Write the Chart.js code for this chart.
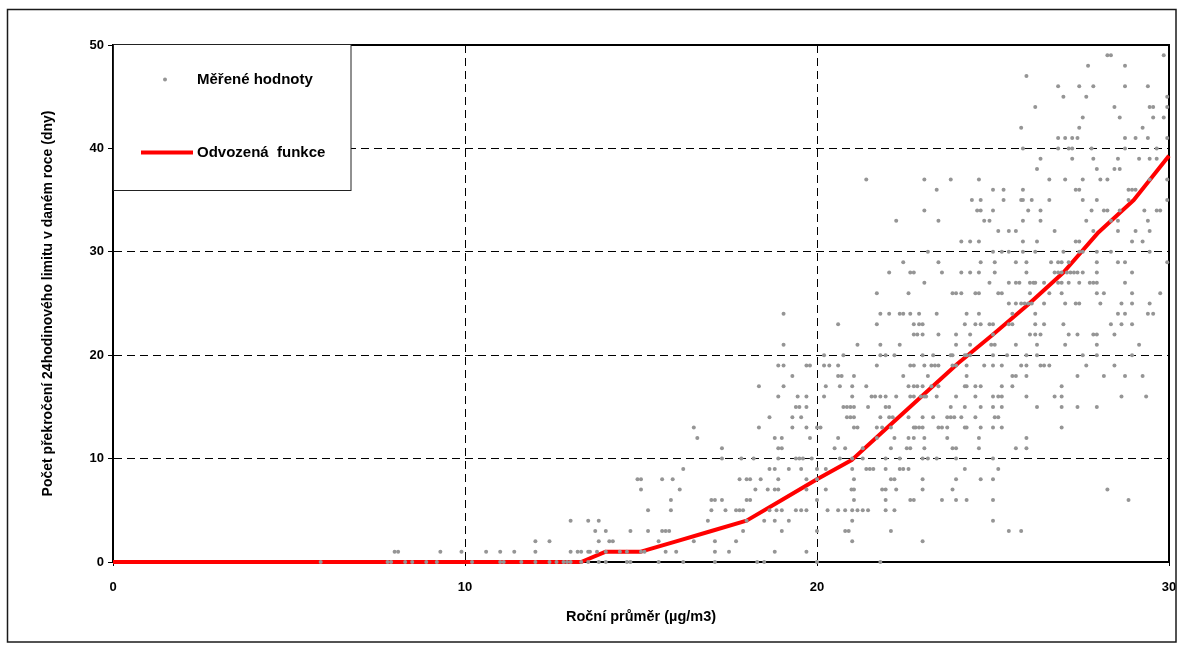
<!DOCTYPE html>
<html>
<head>
<meta charset="utf-8">
<script src="https://cdn.jsdelivr.net/npm/chart.js@4/dist/chart.umd.min.js"></script>
<style>
  html, body { margin: 0; padding: 0; background: #fff; }
  #wrap { width: 1183px; height: 648px; }
</style>
</head>
<body>
<div id="wrap"><canvas id="chart" width="1183" height="648"></canvas></div>
<script>
// Number of days above the 24-hour limit (one row per day count)
const measuredDays = [
  0, 1, 2, 3, 4, 5, 6, 7, 8, 9, 10, 11, 12, 13, 14, 15, 16, 17, 18, 19, 20, 21, 22, 23, 24,
  25, 26, 27, 28, 29, 30, 31, 32, 33, 34, 35, 36, 37, 38, 39, 40, 41, 42, 43, 44, 45, 46, 47, 48, 49
];

// Annual means (µg/m3) of the stations having that number of exceedance days
const measuredMeans = [
  [5.9, 7.8, 7.9, 8.3, 8.5, 8.9, 9.2, 10.2, 11.0, 11.1, 11.6, 12.0, 12.4, 12.6, 12.8, 12.9, 13.0, 13.3, 13.5, 13.8, 14.0, 14.6, 14.7, 15.5, 16.2, 17.1, 18.3, 18.5, 20.0, 21.8],
  [8.0, 8.1, 9.3, 9.9, 10.6, 11.0, 11.4, 12.0, 13.0, 13.2, 13.3, 13.5, 13.55, 13.75, 14.0, 14.4, 14.6, 15.0, 15.1, 15.7, 16.0, 17.1, 17.5, 18.8, 19.7],
  [12.0, 12.4, 13.8, 14.1, 14.2, 15.5, 16.5, 17.1, 17.7, 21.0, 23.0],
  [13.7, 14.0, 14.7, 15.2, 15.6, 15.7, 15.8, 17.9, 19.0, 20.0, 20.8, 20.9, 22.1, 25.45, 25.8],
  [13.0, 13.5, 13.8, 16.9, 18.0, 18.5, 18.8, 19.2, 21.0, 25.0],
  [15.2, 15.85, 17.0, 17.4, 17.7, 17.8, 17.9, 18.65, 18.85, 19.0, 19.4, 19.55, 19.7, 20.3, 20.6, 20.8, 21.0, 21.15, 21.3, 21.45, 21.95, 22.2],
  [15.85, 17.0, 17.1, 17.3, 18.0, 18.1, 20.0, 21.05, 21.95, 22.65, 22.75, 23.55, 23.95, 24.25, 25.0, 28.85],
  [15.0, 16.1, 18.25, 18.6, 18.8, 18.9, 19.7, 20.25, 20.98, 21.05, 21.85, 21.95, 22.25, 23.0, 23.85, 28.25],
  [14.9, 15.0, 15.6, 15.9, 17.8, 18.0, 18.1, 18.4, 18.9, 19.7, 20.0, 21.05, 22.1, 22.2, 23.0, 23.95, 24.65, 25.0],
  [16.2, 18.65, 18.8, 19.2, 19.55, 20.0, 20.25, 21.0, 21.4, 21.5, 21.6, 21.95, 22.35, 22.45, 22.6, 24.2, 25.15],
  [17.3, 17.85, 18.2, 18.9, 19.4, 19.5, 19.6, 19.85, 20.65, 21.0, 21.3, 21.95, 22.35, 23.0, 23.15, 23.4, 23.95, 25.0],
  [17.3, 18.9, 19.0, 20.5, 20.8, 21.3, 22.1, 22.55, 22.65, 23.05, 23.85, 23.95, 24.6, 25.65, 25.95],
  [16.6, 18.8, 19.0, 19.8, 20.6, 21.7, 22.2, 22.6, 22.75, 23.05, 23.7, 24.6, 25.95],
  [16.5, 18.35, 19.3, 19.7, 20.0, 20.1, 21.05, 21.15, 21.7, 21.85, 22.1, 22.75, 22.8, 22.9, 23.0, 23.45, 23.55, 23.7, 24.2, 24.25, 24.65, 25.0, 25.25, 26.95],
  [18.65, 19.3, 19.55, 20.85, 20.95, 21.05, 21.8, 22.05, 22.15, 22.6, 23.0, 23.3, 23.7, 23.8, 23.9, 24.1, 24.5, 25.05, 25.15],
  [19.4, 19.5, 19.7, 20.75, 20.85, 20.95, 21.05, 21.45, 21.95, 22.05, 23.8, 24.2, 24.65, 25.0, 25.25, 26.25, 26.95, 27.4, 27.95],
  [18.9, 19.45, 19.7, 20.2, 21.0, 21.55, 21.65, 21.8, 21.95, 22.25, 22.65, 22.75, 22.95, 23.05, 23.1, 23.4, 23.95, 24.5, 25.0, 25.15, 25.25, 25.95, 26.75, 26.95, 28.65, 29.35],
  [18.35, 19.05, 20.25, 20.65, 21.0, 21.4, 22.6, 22.75, 22.85, 23.0, 23.25, 23.45, 24.2, 24.25, 24.5, 24.65, 25.25, 25.55, 26.95],
  [19.3, 20.6, 20.7, 21.05, 22.45, 23.15, 24.25, 25.55, 25.65, 25.95, 27.4, 28.15, 28.75, 29.25],
  [18.9, 19.05, 19.7, 19.8, 20.2, 20.35, 20.6, 21.7, 22.65, 22.75, 23.05, 23.25, 23.35, 23.45, 23.85, 23.95, 24.25, 24.75, 25.0, 25.25, 25.8, 25.95, 26.35, 26.45, 26.6, 27.65, 28.45],
  [20.2, 20.75, 21.8, 21.95, 22.2, 23.0, 23.3, 23.8, 23.85, 24.2, 24.25, 24.35, 25.0, 25.4, 25.95, 26.25, 27.55, 27.95, 28.95],
  [19.05, 21.15, 21.8, 22.35, 23.95, 24.35, 24.95, 25.05, 25.65, 26.25, 27.05, 27.95, 29.15],
  [22.75, 22.85, 23.0, 23.45, 23.95, 24.35, 25.0, 26.05, 26.2, 26.35, 27.15, 27.4, 27.85, 27.95, 28.45],
  [20.6, 21.7, 22.75, 22.9, 23.0, 24.2, 24.5, 24.65, 24.9, 25.0, 25.45, 25.55, 26.2, 26.45, 27.0, 28.35, 28.65, 28.95],
  [19.05, 21.8, 22.05, 22.35, 22.45, 22.65, 22.9, 23.4, 24.25, 24.6, 25.55, 26.2, 28.55, 28.75, 29.4, 29.55],
  [25.45, 25.65, 25.8, 25.9, 26.0, 26.1, 26.45, 27.05, 27.35, 27.45, 28.05, 28.65, 28.95, 29.45],
  [21.7, 22.6, 23.85, 23.95, 24.1, 24.5, 24.6, 25.15, 25.25, 26.05, 26.6, 26.95, 27.95, 28.15, 28.95, 29.75],
  [23.05, 24.9, 25.45, 25.65, 25.75, 26.05, 26.15, 26.2, 26.45, 26.85, 26.95, 27.15, 27.45, 27.75, 27.85, 27.95, 28.75],
  [22.05, 22.65, 22.75, 23.55, 24.1, 24.35, 24.6, 25.05, 25.95, 26.75, 26.85, 26.95, 27.1, 27.2, 27.3, 27.4, 27.55, 27.95, 28.95],
  [22.45, 23.45, 24.65, 25.05, 25.65, 25.95, 26.65, 26.85, 26.95, 27.15, 27.95, 28.55, 28.75, 29.95],
  [23.15, 25.0, 25.25, 25.45, 25.85, 26.2, 27.0, 27.45, 27.55, 27.95, 28.35, 29.45],
  [24.1, 24.35, 24.6, 25.85, 26.25, 27.35, 27.45, 28.95, 29.25],
  [25.15, 25.45, 25.65, 26.75, 27.85, 28.55, 29.05, 29.45],
  [22.25, 23.45, 24.75, 24.9, 25.85, 26.35, 27.65, 28.35, 28.55, 29.4],
  [23.05, 24.55, 24.65, 25.0, 26.0, 26.35, 27.8, 28.15, 28.25, 28.6, 29.3, 29.65, 29.75],
  [24.4, 24.65, 25.3, 25.8, 25.85, 26.1, 26.6, 27.55, 27.95, 28.85, 29.95],
  [23.4, 25.0, 25.3, 25.85, 27.35, 27.45, 28.85, 28.95, 29.05],
  [21.4, 23.05, 23.8, 24.6, 26.6, 27.05, 27.55, 28.05, 28.25, 29.45, 29.95],
  [26.25, 27.95, 28.45, 28.6],
  [26.35, 27.25, 27.85, 28.55, 29.15, 29.45, 29.65],
  [25.85, 26.85, 27.15, 27.25, 27.8, 28.75, 29.65],
  [26.85, 27.05, 27.25, 27.4, 28.75, 29.05, 29.4, 29.95],
  [25.8, 27.45, 29.25],
  [27.55, 28.6, 29.55, 29.85],
  [26.2, 28.45, 29.45, 29.55, 29.95],
  [27.0, 27.65, 29.95],
  [26.85, 27.45, 27.85, 28.75, 29.4],
  [25.95],
  [27.7, 28.75],
  [28.25, 28.35, 29.85]
];

// Derived function: annual mean -> expected number of exceedance days
const curveMean = [0, 13.3, 14, 15, 16, 17, 18, 19, 20, 21, 22, 23, 24, 25, 26, 27, 28, 29, 30];
const curveDays = [0, 0, 1, 1, 2, 3, 4, 6, 8, 9.9, 13, 16.1, 19.2, 22, 24.9, 28, 31.9, 35, 39.3];

// Axis ticks and texts
const xTicks = [0, 10, 20, 30];
const yTicks = [0, 10, 20, 30, 40, 50];
const seriesNames = ['Měřené hodnoty', 'Odvozená  funkce'];
const xTitle = 'Roční průměr (µg/m3)';
const yTitle = 'Počet překročení 24hodinového limitu v daném roce (dny)';

const FONT = '"Liberation Sans", Arial, Helvetica, sans-serif';
const DOT_COLOR = '#959595';
const LINE_COLOR = '#ff0000';

const measuredPoints = [];
measuredDays.forEach((d, i) => {
  measuredMeans[i].forEach(m => measuredPoints.push({ x: m, y: d }));
});
const curvePoints = curveMean.map((m, i) => ({ x: m, y: curveDays[i] }));

// Plot frame (top/right edges), legend box and outer border
const framePlugin = {
  id: 'frame',
  beforeDatasetsDraw(chart) {
    const { ctx, chartArea: a } = chart;
    ctx.save();
    ctx.strokeStyle = '#000';
    ctx.lineWidth = 2;
    ctx.beginPath();
    ctx.moveTo(a.left, a.top);
    ctx.lineTo(a.right, a.top);
    ctx.lineTo(a.right, a.bottom);
    ctx.stroke();
    ctx.restore();
  },
  afterDraw(chart) {
    const { ctx, chartArea: a } = chart;
    ctx.save();
    // outer border of the figure
    ctx.strokeStyle = '#1a1a1a';
    ctx.lineWidth = 1.5;
    ctx.strokeRect(7.5, 9.5, 1168.5, 632.5);

    // legend box
    const lx = a.left, ly = a.top - 1, lw = 238, lh = 146;
    ctx.fillStyle = '#fff';
    ctx.fillRect(lx, ly, lw, lh);
    ctx.strokeStyle = '#222';
    ctx.lineWidth = 1;
    ctx.strokeRect(lx + 0.5, ly + 0.5, lw - 0.5, lh);

    ctx.font = 'bold 15px ' + FONT;
    ctx.textBaseline = 'middle';
    ctx.textAlign = 'left';

    // measured values entry
    ctx.fillStyle = DOT_COLOR;
    ctx.beginPath();
    ctx.arc(lx + 52, ly + 35.5, 2, 0, Math.PI * 2);
    ctx.fill();
    ctx.fillStyle = '#000';
    ctx.fillText(seriesNames[0], lx + 84, ly + 36);

    // derived function entry
    ctx.strokeStyle = LINE_COLOR;
    ctx.lineWidth = 4;
    ctx.beginPath();
    ctx.moveTo(lx + 28, ly + 108.5);
    ctx.lineTo(lx + 80, ly + 108.5);
    ctx.stroke();
    ctx.fillText(seriesNames[1], lx + 84, ly + 109);
    ctx.restore();
  }
};

const edgeColor = (ctx, edges) =>
  (ctx.tick && edges.includes(ctx.tick.value)) ? 'rgba(0,0,0,0)' : '#000';

new Chart(document.getElementById('chart'), {
  type: 'scatter',
  data: {
    datasets: [
      {
        label: seriesNames[0],
        data: measuredPoints,
        pointStyle: 'circle',
        pointRadius: 2,
        pointHoverRadius: 2,
        pointBorderWidth: 0,
        pointBackgroundColor: DOT_COLOR,
        showLine: false,
        clip: false,
        order: 0
      },
      {
        type: 'line',
        label: seriesNames[1],
        data: curvePoints,
        borderColor: LINE_COLOR,
        borderWidth: 4,
        pointRadius: 0,
        tension: 0,
        fill: false,
        clip: false,
        borderJoinStyle: 'round',
        order: 1
      }
    ]
  },
  options: {
    responsive: false,
    animation: false,
    devicePixelRatio: 1,
    layout: { padding: { left: 0, right: 14, top: 45, bottom: 0 } },
    plugins: { legend: { display: false }, tooltip: { enabled: false } },
    scales: {
      x: {
        type: 'linear',
        min: xTicks[0],
        max: xTicks[xTicks.length - 1],
        afterBuildTicks: s => { s.ticks = xTicks.map(v => ({ value: v })); },
        afterFit: s => { s.height = 86; s.paddingLeft = 0; s.paddingRight = 0; },
        ticks: {
          color: '#000',
          font: { family: FONT, size: 13, weight: 'bold' },
          padding: 14,
          maxRotation: 0
        },
        grid: {
          color: c => edgeColor(c, [0, 30]),
          lineWidth: 1,
          tickColor: '#000',
          tickLength: 4,
          tickBorderDash: []
        },
        border: { display: true, color: '#000', width: 2, dash: [8, 5] },
        title: {
          display: true,
          text: xTitle,
          color: '#000',
          font: { family: FONT, size: 14.5, weight: 'bold' },
          padding: { top: 0, bottom: 22 }
        }
      },
      y: {
        type: 'linear',
        min: yTicks[0],
        max: yTicks[yTicks.length - 1],
        afterBuildTicks: s => { s.ticks = yTicks.map(v => ({ value: v })); },
        afterFit: s => { s.width = 113; s.paddingTop = 0; s.paddingBottom = 0; },
        ticks: {
          color: '#000',
          font: { family: FONT, size: 13, weight: 'bold' },
          padding: 4
        },
        grid: {
          color: c => edgeColor(c, [0, 50]),
          lineWidth: 1,
          tickColor: '#000',
          tickLength: 5,
          tickBorderDash: []
        },
        border: { display: true, color: '#000', width: 2, dash: [8, 5] },
        title: {
          display: true,
          text: yTitle,
          color: '#000',
          font: { family: FONT, size: 14, weight: 'bold' },
          padding: { top: 40, bottom: 0 }
        }
      }
    }
  },
  plugins: [framePlugin]
});
</script>
</body>
</html>
